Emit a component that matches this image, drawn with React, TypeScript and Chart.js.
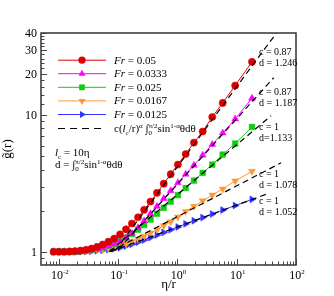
import React, { useEffect, useRef } from "react";
import { Chart, registerables } from "chart.js";

Chart.register(...registerables);

// ---------- data ----------
const etaOverR = [
  0.0082, 0.0101, 0.0124, 0.0153, 0.0188, 0.0232, 0.0288, 0.0356, 0.0442, 0.055,
  0.0686, 0.0859, 0.108, 0.136, 0.171, 0.217, 0.275, 0.352, 0.453, 0.588,
  0.771, 1.02, 1.38, 1.9, 2.67, 3.87, 5.81, 9.43, 18.1,
];

const gFr0050 = [
  1.0, 1.0, 1.0, 1.005, 1.01, 1.02, 1.035, 1.055, 1.085, 1.13,
  1.185, 1.25, 1.34, 1.46, 1.61, 1.79, 2.03, 2.33, 2.7, 3.15,
  3.7, 4.35, 5.2, 6.3, 7.6, 9.7, 12.3, 16.5, 24.6,
];
const gFr0333 = [
  1.0, 1.0, 1.0, 1.0, 1.005, 1.01, 1.02, 1.03, 1.05, 1.07,
  1.1, 1.14, 1.19, 1.26, 1.36, 1.5, 1.68, 1.9, 2.15, 2.45,
  2.8, 3.2, 3.7, 4.3, 5.1, 6.1, 7.4, 9.4, 13.3,
];
const gFr0250 = [
  1.0, 1.0, 1.0, 1.0, 1.005, 1.01, 1.02, 1.03, 1.05, 1.075,
  1.105, 1.145, 1.2, 1.27, 1.35, 1.45, 1.57, 1.72, 1.9, 2.1,
  2.33, 2.6, 2.93, 3.32, 3.78, 4.35, 5.15, 6.2, 8.2,
];
const gFr0167 = [
  1.0, 1.0, 1.0, 1.0, 1.003, 1.006, 1.012, 1.02, 1.03, 1.04,
  1.06, 1.08, 1.11, 1.145, 1.19, 1.24, 1.3, 1.37, 1.45, 1.55,
  1.66, 1.8, 1.97, 2.15, 2.36, 2.6, 2.88, 3.3, 3.88,
];
const gFr0125 = [
  1.0, 1.0, 1.0, 1.0, 1.0, 1.002, 1.005, 1.01, 1.016, 1.025,
  1.037, 1.052, 1.07, 1.1, 1.135, 1.175, 1.22, 1.27, 1.325, 1.385,
  1.45, 1.52, 1.6, 1.685, 1.78, 1.89, 2.02, 2.18, 2.42,
];

// power-law fits c(lc/r)^a * d : straight lines on log-log axes, start/end points
const fitEta0050 = [0.09, 50];
const fitG0050 = [1.02, 41.6];
const fitEta0333 = [0.1, 42];
const fitG0333 = [1.033, 18.8];
const fitEta0250 = [0.072, 38];
const fitG0250 = [1.005, 9.9];
const fitEta0167 = [0.072, 56];
const fitG0167 = [1.0, 4.48];
const fitEta0125 = [0.073, 34];
const fitG0125 = [1.0, 2.67];

const seriesLabels = ["0.05", "0.0333", "0.025", "0.0167", "0.0125"];
const fitC = ["0.87", "0.87", "1", "1", "1"];
const fitD = ["d = 1.246", "d = 1.187", "d=1.133", "d = 1.078", "d = 1.052"];

const yTickValues = [1, 10, 20, 30, 40];
const yTickLabels = ["1", "10", "20", "30", "40"];
const yMinorTicks = [0.9, 2, 3, 4, 5, 6, 7, 8, 9, 12, 14, 16, 18, 22, 24, 26, 28, 32, 34, 36, 38];
const xTickExponents = [-2, -1, 0, 1, 2];

// ---------- styles ----------
const COLORS = ["#dd0000", "#ff00ff", "#11cc11", "#ff9933", "#3333ff"];
const SHAPES = ["circle", "triangle", "rect", "triangleDown", "triangleRight"];
const SERIF = '"Liberation Serif", "Times New Roman", Times, serif';

type Seg = { t: string; it?: boolean; sup?: boolean; sub?: boolean; keep?: boolean };

function drawRich(
  ctx: CanvasRenderingContext2D,
  segs: Seg[],
  x: number,
  y: number,
  size: number,
  align: "left" | "center" | "right" = "left"
) {
  const fontFor = (s: Seg) =>
    `${s.it ? "italic " : ""}${s.sup || s.sub ? Math.round(size * 0.62) : size}px ${SERIF}`;
  let w = 0;
  for (const s of segs) {
    ctx.font = fontFor(s);
    if (!s.keep) w += ctx.measureText(s.t).width;
  }
  let cx = align === "center" ? x - w / 2 : align === "right" ? x - w : x;
  ctx.textAlign = "left";
  ctx.textBaseline = "alphabetic";
  for (const s of segs) {
    ctx.font = fontFor(s);
    const dy = s.sup ? -size * 0.4 : s.sub ? size * 0.25 : 0;
    ctx.fillText(s.t, cx, y + dy);
    if (!s.keep) cx += ctx.measureText(s.t).width;
  }
}

function drawMarker(ctx: CanvasRenderingContext2D, shape: string, x: number, y: number, r: number) {
  ctx.beginPath();
  if (shape === "circle") {
    ctx.arc(x, y, r, 0, Math.PI * 2);
  } else if (shape === "rect") {
    ctx.rect(x - r * 0.72, y - r * 0.72, r * 1.44, r * 1.44);
  } else {
    const rot = shape === "triangle" ? 0 : shape === "triangleDown" ? Math.PI : Math.PI / 2;
    for (let k = 0; k < 3; k++) {
      const ang = rot + (k * 2 * Math.PI) / 3 - Math.PI / 2;
      const px = x + r * Math.cos(ang);
      const py = y + r * Math.sin(ang) + (shape === "triangleRight" ? 0 : 0);
      if (k === 0) ctx.moveTo(px, py);
      else ctx.lineTo(px, py);
    }
    ctx.closePath();
  }
  ctx.fill();
}

const overlay = {
  id: "overlay",
  afterDatasetsDraw(chart: any) {
    const { ctx, chartArea: a, scales } = chart;
    const xs = scales.x;
    const ys = scales.y;
    ctx.save();

    // frame
    ctx.strokeStyle = "#333";
    ctx.lineWidth = 1.5;
    ctx.strokeRect(a.left, a.top, a.right - a.left, a.bottom - a.top);

    // x ticks (inward)
    ctx.lineWidth = 1;
    ctx.strokeStyle = "#444";
    for (let d = -3; d <= 2; d++) {
      for (let m = 1; m <= 9; m++) {
        const v = m * Math.pow(10, d);
        if (v < xs.min * 1.0001 || v > xs.max * 1.0001) continue;
        const px = Math.round(xs.getPixelForValue(v)) + 0.5;
        const len = m === 1 ? 6 : 3.5;
        ctx.beginPath();
        ctx.moveTo(px, a.bottom);
        ctx.lineTo(px, a.bottom - len);
        ctx.stroke();
      }
    }
    // y ticks (inward)
    for (const v of yMinorTicks) {
      const py = Math.round(ys.getPixelForValue(v)) + 0.5;
      ctx.beginPath();
      ctx.moveTo(a.left, py);
      ctx.lineTo(a.left + 3.5, py);
      ctx.stroke();
    }
    for (const v of yTickValues) {
      const py = Math.round(ys.getPixelForValue(v)) + 0.5;
      ctx.beginPath();
      ctx.moveTo(a.left, py);
      ctx.lineTo(a.left + 6, py);
      ctx.stroke();
    }

    ctx.fillStyle = "#000";
    // y tick labels
    yTickValues.forEach((v, i) => {
      const py = ys.getPixelForValue(v);
      drawRich(ctx, [{ t: yTickLabels[i] }], a.left - 4, py + 4.2, 12, "right");
    });
    // x tick labels
    xTickExponents.forEach((e) => {
      const px = xs.getPixelForValue(Math.pow(10, e));
      drawRich(ctx, [{ t: "10" }, { t: e < 0 ? "-" + Math.abs(e) : String(e), sup: true }], px + 1, a.bottom + 14, 12, "center");
    });

    // axis titles
    drawRich(ctx, [{ t: "η/r" }], (a.left + a.right) / 2, a.bottom + 23, 13, "center");
    ctx.save();
    ctx.translate(11, (a.top + a.bottom) / 2);
    ctx.rotate(-Math.PI / 2);
    drawRich(ctx, [{ t: "g\u0303(r)" }], 0, 0, 13, "center");
    ctx.restore();

    // legend
    const lx0 = 58, lx1 = 106, tx = 114;
    const rowY = [59.7, 73.2, 86.8, 100.4, 114.0, 128.0];
    COLORS.forEach((c, i) => {
      const y = rowY[i];
      ctx.strokeStyle = c;
      ctx.fillStyle = c;
      ctx.lineWidth = 1;
      ctx.beginPath();
      ctx.moveTo(lx0, y + 0.5);
      ctx.lineTo(lx1, y + 0.5);
      ctx.stroke();
      drawMarker(ctx, SHAPES[i], (lx0 + lx1) / 2, y + 0.5, SHAPES[i] === "circle" ? 3.6 : 4);
      ctx.fillStyle = "#000";
      drawRich(ctx, [{ t: "Fr", it: true }, { t: " = " + seriesLabels[i] }], tx, y + 4, 11);
    });
    ctx.strokeStyle = "#000";
    ctx.lineWidth = 1.2;
    ctx.setLineDash([7, 5]);
    ctx.beginPath();
    ctx.moveTo(lx0, rowY[5] + 0.5);
    ctx.lineTo(lx1, rowY[5] + 0.5);
    ctx.stroke();
    ctx.setLineDash([]);
    ctx.fillStyle = "#000";
    drawRich(
      ctx,
      [
        { t: "c(" },
        { t: "l", it: true },
        { t: "c", sub: true },
        { t: "/r)" },
        { t: "α", sup: true },
        { t: " ∫" },
        { t: "0", sub: true, keep: true },
        { t: "π/2", sup: true },
        { t: "sin" },
        { t: "1-α", sup: true },
        { t: "θdθ" },
      ],
      tx,
      rowY[5] + 4,
      11
    );

    // annotation block
    drawRich(ctx, [{ t: "l", it: true }, { t: "c", sub: true }, { t: " = 10η" }], 55, 156, 11);
    drawRich(
      ctx,
      [
        { t: "d = ∫" },
        { t: "0", sub: true, keep: true },
        { t: "π/2", sup: true },
        { t: "sin" },
        { t: "1-α", sup: true },
        { t: "θdθ" },
      ],
      55,
      168,
      11
    );

    // fit parameter labels
    const labCY = [51.7, 91.7, 126.7, 173.3, 200.0];
    fitC.forEach((c, i) => {
      drawRich(ctx, [{ t: "c = " + c }], 259, labCY[i] + 3.5, 10);
      drawRich(ctx, [{ t: fitD[i] }], 259, labCY[i] + 14.5, 10);
    });

    ctx.restore();
  },
};

const dataSeries = [gFr0050, gFr0333, gFr0250, gFr0167, gFr0125];
const fitEtas = [fitEta0050, fitEta0333, fitEta0250, fitEta0167, fitEta0125];
const fitGs = [fitG0050, fitG0333, fitG0250, fitG0167, fitG0125];

export default function App() {
  const ref = useRef<HTMLCanvasElement>(null);
  useEffect(() => {
    document.body.style.margin = "0";
    const canvas = ref.current!;
    const fitSets = fitEtas.map((xsArr, i) => ({
      label: "fit " + seriesLabels[i],
      data: xsArr.map((x, k) => ({ x, y: fitGs[i][k] })),
      borderColor: "#000",
      backgroundColor: "#000",
      borderWidth: 1.2,
      borderDash: [6, 4],
      pointRadius: 0,
      showLine: true,
      fill: false,
    }));
    const dataSets = dataSeries.map((ys, i) => {
      const shape = SHAPES[i];
      const ps = shape === "circle" ? "circle" : shape === "rect" ? "rect" : "triangle";
      const rot = shape === "triangleDown" ? 180 : shape === "triangleRight" ? 90 : 0;
      return {
        label: "Fr = " + seriesLabels[i],
        data: etaOverR.map((x, k) => ({ x, y: ys[k] })),
        borderColor: COLORS[i],
        backgroundColor: COLORS[i],
        borderWidth: 1,
        pointStyle: ps,
        pointRotation: rot,
        pointRadius: shape === "circle" ? 3.6 : 4,
        pointBorderWidth: 0.5,
        showLine: true,
        fill: false,
      };
    });
    const chart = new Chart(canvas, {
      type: "line",
      data: { datasets: [...fitSets, ...dataSets] as any },
      options: {
        responsive: false,
        animation: false,
        devicePixelRatio: 1,
        layout: { padding: { left: 41, right: 38, top: 33, bottom: 31 } },
        plugins: { legend: { display: false }, tooltip: { enabled: false } },
        scales: {
          x: { type: "logarithmic", min: Math.pow(10, -2.3), max: 100, display: false },
          y: { type: "logarithmic", min: 0.8, max: 40, display: false },
        },
      } as any,
      plugins: [overlay],
    });
    return () => chart.destroy();
  }, []);
  return (
    <div style={{ position: "absolute", left: 0, top: 0, width: 334, height: 296, background: "#fff" }}>
      <canvas ref={ref} width={334} height={296} style={{ display: "block", width: 334, height: 296 }} />
    </div>
  );
}
